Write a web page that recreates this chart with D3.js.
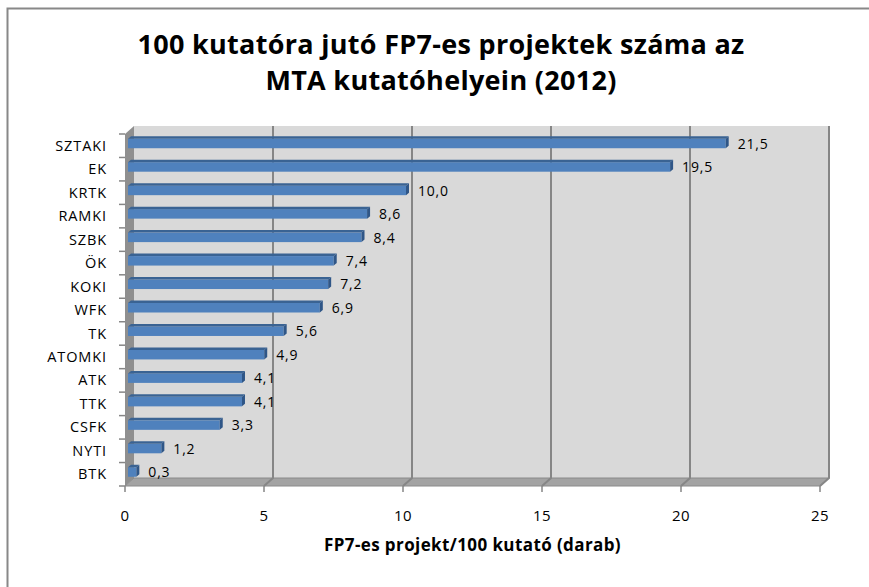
<!DOCTYPE html>
<html>
<head>
<meta charset="utf-8">
<script src="https://cdn.jsdelivr.net/npm/d3@7"></script>
<style>
  body { margin: 0; background: #fff; }
  text { font-family: "Open Sans", sans-serif; fill: #000; }
</style>
</head>
<body>
<div id="visContainer"></div>
<script>
'use strict';

// institute names, top to bottom
const institutes = ["SZTAKI", "EK", "KRTK", "RAMKI", "SZBK", "ÖK", "KOKI", "WFK",
  "TK", "ATOMKI", "ATK", "TTK", "CSFK", "NYTI", "BTK"];

// FP7 projects per 100 researchers
const projectRates = [21.5, 19.5, 10.0, 8.6, 8.4, 7.4, 7.2, 6.9, 5.6, 4.9, 4.1, 4.1, 3.3, 1.2, 0.3];

// x axis ticks
const xTicks = [0, 5, 10, 15, 20, 25];

const titleLines = ["100 kutatóra jutó FP7-es projektek száma az", "MTA kutatóhelyein (2012)"];
const xTitle = "FP7-es projekt/100 kutató (darab)";

var data = institutes.map(function(name, i) { return {name: name, value: projectRates[i]}; });

var svg = d3.select('#visContainer')
    .append('svg')
    .attr('width', 869)
    .attr('height', 587);

// chart frame (left and top edges visible)
svg.append('path')
    .attr('d', 'M7.5,587 V8.5 H869')
    .attr('fill', 'none')
    .attr('stroke', '#888')
    .attr('stroke-width', 2);

// plot area and 3d depth
var plot = {left: 125, right: 820, top: 134, bottom: 486};
var depth = {dx: 9, dy: -8};

var x = d3.scaleLinear().domain([0, 25]).range([plot.left, plot.right]);
var y = d3.scaleBand().domain(institutes).range([plot.top, plot.bottom]);

var g = svg.append('g');

// back wall
g.append('rect')
    .attr('x', plot.left + depth.dx)
    .attr('y', plot.top + depth.dy)
    .attr('width', plot.right - plot.left)
    .attr('height', plot.bottom - plot.top)
    .attr('fill', '#d9d9d9');

// left wall
g.append('path')
    .attr('d', 'M' + plot.left + ',' + plot.top +
      'L' + (plot.left + depth.dx) + ',' + (plot.top + depth.dy) +
      'L' + (plot.left + depth.dx) + ',' + (plot.bottom + depth.dy) +
      'L' + plot.left + ',' + plot.bottom + 'Z')
    .attr('fill', '#8f8f8f');

// floor
g.append('path')
    .attr('d', 'M' + plot.left + ',' + plot.bottom +
      'L' + (plot.left + depth.dx) + ',' + (plot.bottom + depth.dy) +
      'L' + (plot.right + depth.dx) + ',' + (plot.bottom + depth.dy) +
      'L' + plot.right + ',' + plot.bottom + 'Z')
    .attr('fill', '#a3a3a3')
    .attr('stroke', '#8a8a8a')
    .attr('stroke-width', 1);

// gridlines on back wall and floor
xTicks.forEach(function(t) {
  if (t === 0) return;
  g.append('path')
    .attr('d', 'M' + x(t) + ',' + plot.bottom +
      'L' + (x(t) + depth.dx) + ',' + (plot.bottom + depth.dy) +
      'V' + (plot.top + depth.dy))
    .attr('fill', 'none')
    .attr('stroke', '#868686')
    .attr('stroke-width', 2);
});

// x axis ticks and labels
var xAxis = svg.append('g').attr('class', 'axis axis--x');
xTicks.forEach(function(t) {
  xAxis.append('line')
    .attr('x1', x(t)).attr('x2', x(t))
    .attr('y1', plot.bottom).attr('y2', plot.bottom + 6)
    .attr('stroke', '#868686').attr('stroke-width', 1.5);
  xAxis.append('text')
    .attr('x', x(t)).attr('y', 521)
    .attr('text-anchor', 'middle')
    .style('font-size', '15px')
    .style('letter-spacing', '0.5px')
    .text(t);
});

// y axis ticks at band boundaries and labels
var yAxis = svg.append('g').attr('class', 'axis axis--y');
institutes.concat([null]).forEach(function(name, i) {
  var yy = plot.top + i * y.step();
  yAxis.append('line')
    .attr('x1', plot.left - 6).attr('x2', plot.left)
    .attr('y1', yy).attr('y2', yy)
    .attr('stroke', '#868686').attr('stroke-width', 1.5);
});
institutes.forEach(function(name) {
  yAxis.append('text')
    .attr('x', 107)
    .attr('y', y(name) + y.bandwidth() / 2)
    .attr('dy', '0.35em')
    .attr('text-anchor', 'end')
    .style('font-size', '14.5px')
    .style('letter-spacing', '0.9px')
    .text(name);
});

// 3d bars
var bars = g.selectAll('.bar').data(data).enter().append('g').attr('class', 'bar');
var bx0 = x(0) + 3;
function barTop(d) { return y(d.name) + y.bandwidth() / 2 - 7; }
function barBottom(d) { return y(d.name) + y.bandwidth() / 2 + 2.5; }
function barEnd(d) { return x(d.value) + 3; }

bars.append('rect')
    .attr('x', bx0)
    .attr('y', barTop)
    .attr('width', function(d) { return barEnd(d) - bx0; })
    .attr('height', function(d) { return barBottom(d) - barTop(d); })
    .attr('fill', '#4f81bd');

// top face
bars.append('path')
    .attr('d', function(d) {
      var t = barTop(d), e = barEnd(d);
      return 'M' + bx0 + ',' + t + 'L' + e + ',' + t +
        'L' + (e + 3) + ',' + (t - 2.5) + 'L' + (bx0 + 3) + ',' + (t - 2.5) + 'Z';
    })
    .attr('fill', '#3a6393');

// right side face
bars.append('path')
    .attr('d', function(d) {
      var t = barTop(d), b = barBottom(d), e = barEnd(d);
      return 'M' + e + ',' + t + 'L' + (e + 3) + ',' + (t - 2.5) +
        'L' + (e + 3) + ',' + (b - 2.5) + 'L' + e + ',' + b + 'Z';
    })
    .attr('fill', '#2f5687');

// value labels
bars.append('text')
    .attr('x', function(d) { return x(d.value) + 15; })
    .attr('y', function(d) { return y(d.name) + y.bandwidth() / 2 - 2; })
    .attr('dy', '0.35em')
    .style('font-size', '14px')
    .style('letter-spacing', '0.8px')
    .text(function(d) { return d3.format('.1f')(d.value).replace('.', ','); });

// chart title
svg.append('text')
    .attr('text-anchor', 'middle')
    .style('font-size', '27px')
    .style('font-weight', 'bold')
    .style('letter-spacing', '0.3px')
    .selectAll('tspan').data(titleLines).enter().append('tspan')
    .attr('x', 441)
    .attr('y', function(d, i) { return 54 + i * 36; })
    .text(function(d) { return d; });

// x axis title
svg.append('text')
    .attr('x', (plot.left + plot.right) / 2)
    .attr('y', 551)
    .attr('text-anchor', 'middle')
    .style('font-size', '17px')
    .style('font-weight', 'bold')
    .style('letter-spacing', '0.4px')
    .text(xTitle);
</script>
</body>
</html>
